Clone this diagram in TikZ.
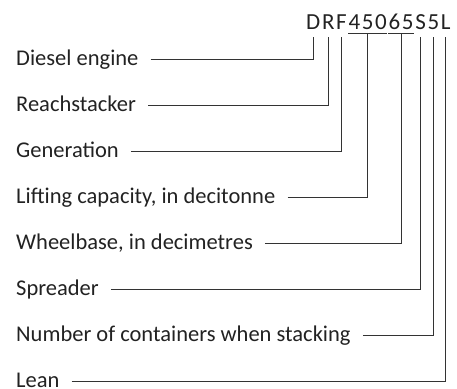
\documentclass[tikz,border=0pt]{standalone}
\usepackage{fontspec}
\setmainfont{Carlito}
\usepackage{tikz}
\usetikzlibrary{positioning, calc}
\definecolor{ink}{HTML}{222222}
\definecolor{wire}{HTML}{333333}

\begin{document}
\begin{tikzpicture}[
    x=1pt, y=1pt,
    lbl/.style={inner sep=0pt, text height=15pt, text depth=3pt,
                font=\fontsize{22.5}{24}\selectfont, text=ink, anchor=west},
    code/.style={inner sep=0pt, font=\fontsize{23}{25}\selectfont, text=ink},
    conn/.style={draw=wire, line width=0.8pt},
    gap/.style={xshift=12pt},
]
    \useasboundingbox (0,0) rectangle (457,388);

    % type code, one node per character
    \foreach \ch [count=\i, remember=\i as \j (initially 0)] in {D,R,F,4,5,0,6,5,S,5,L} {
        \ifnum\i=1
            \node[code, anchor=base west] (c1) at (306,358) {\ch};
        \else
            \node[code, right=1.3pt of c\j.base east, anchor=base west] (c\i) {\ch};
        \fi
    }

    % labels
    \node[lbl] (diesel) at (16,328.5) {Diesel engine};
    \node[lbl, below=27.55pt of diesel.south west, anchor=north west] (reach) {Reachstacker};
    \node[lbl, below=27.55pt of reach.south west, anchor=north west]  (gen)   {Generation};
    \node[lbl, below=27.55pt of gen.south west, anchor=north west]    (lift)  {Lifting capacity, in decitonne};
    \node[lbl, below=27.55pt of lift.south west, anchor=north west]   (wheel) {Wheelbase, in decimetres};
    \node[lbl, below=27.55pt of wheel.south west, anchor=north west]  (spread){Spreader};
    \node[lbl, below=27.55pt of spread.south west, anchor=north west] (stack) {Number of containers when stacking};
    \node[lbl, below=27.55pt of stack.south west, anchor=north west]  (lean)  {Lean};

    % brackets under grouped digits
    \draw[conn] ([yshift=-3pt]c4.base west) -- ([yshift=-3pt]c6.base east);
    \draw[conn] ([yshift=-3pt]c7.base west) -- ([yshift=-3pt]c8.base east);
    \coordinate (capmid) at ($(c4.base west)!0.5!(c6.base east)+(0,-3pt)$);
    \coordinate (wbmid)  at ($(c7.base west)!0.5!(c8.base east)+(0,-3pt)$);

    % connectors
    \draw[conn] ([gap]diesel.east) -| ([yshift=-7pt]c1.base);
    \draw[conn] ([gap]reach.east)  -| ([yshift=-7pt]c2.base);
    \draw[conn] ([gap]gen.east)    -| ([yshift=-7pt]c3.base);
    \draw[conn] ([gap]lift.east)   -| (capmid);
    \draw[conn] ([gap]wheel.east)  -| (wbmid);
    \draw[conn] ([gap]spread.east) -| ([yshift=-7pt]c9.base);
    \draw[conn] ([gap]stack.east)  -| ([yshift=-7pt]c10.base);
    \draw[conn] ([gap]lean.east)   -| ([yshift=-7pt]c11.base);
\end{tikzpicture}
\end{document}
